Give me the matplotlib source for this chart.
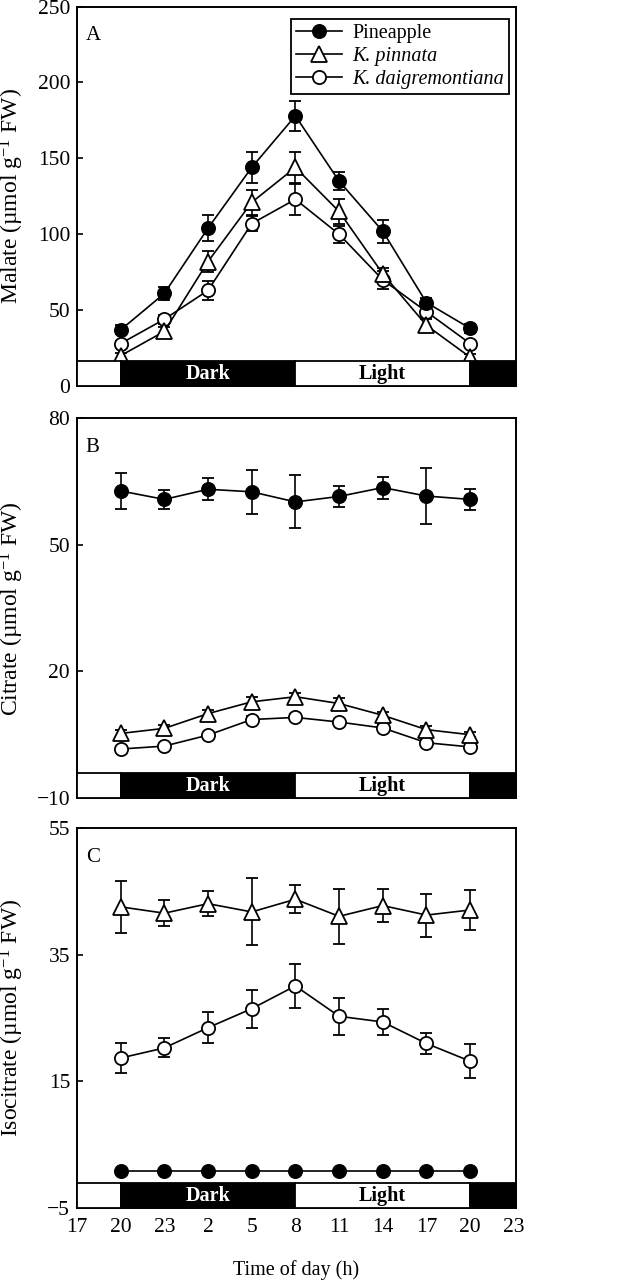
import numpy as np
import matplotlib
matplotlib.use('Agg')
import matplotlib.pyplot as plt
from matplotlib import transforms
from matplotlib.patches import Rectangle
from matplotlib.lines import Line2D

plt.rcParams['font.family'] = ['Liberation Serif', 'DejaVu Serif']
plt.rcParams['mathtext.fontset'] = 'custom'
plt.rcParams['mathtext.rm'] = 'Liberation Serif'
plt.rcParams['mathtext.it'] = 'Liberation Serif:italic'
plt.rcParams['font.size'] = 14.5

# =========================
# Data
# =========================
# time in hours elapsed since 17:00
tick_hours = np.arange(0, 31, 3)
tick_labels = [str((17 + h) % 24) for h in tick_hours]
sample_hours = np.arange(3, 28, 3)

species = ['Pineapple', 'K. pinnata', 'K. daigremontiana']

# photoperiod (elapsed hours): start, end, kind
photo_start = [0, 3, 15, 27]
photo_end = [3, 15, 27, 30.15]
photo_kind = ['light', 'dark', 'light', 'dark']

# Malate
malate_pine = [37, 61, 104, 144, 178, 135, 102, 55, 38]
malate_pine_err = [3, 4.5, 8.5, 10, 10, 6, 7.5, 3, 3]
malate_pinn = [20, 36, 82, 121, 144, 115, 74, 40, 19]
malate_pinn_err = [2, 3, 7, 8, 10, 8, 4, 4, 2]
malate_daig = [28, 44, 63, 107, 123, 100, 70, 49, 28]
malate_daig_err = [2, 3, 6, 5, 10, 5.5, 6, 3, 2]

# Citrate
citrate_pine = [62.8, 60.8, 63.2, 62.6, 60.2, 61.5, 63.6, 61.6, 60.8]
citrate_pine_err = [4.2, 2.2, 2.6, 5.2, 6.3, 2.4, 2.6, 6.7, 2.5]
citrate_pinn = [5.3, 6.5, 10.0, 12.8, 14.0, 12.4, 9.6, 6.2, 5.0]
citrate_pinn_err = [0.8, 0.8, 0.9, 1.2, 1.0, 1.2, 0.9, 0.8, 0.6]
citrate_daig = [1.6, 2.3, 4.9, 8.6, 9.1, 8.0, 6.6, 3.1, 2.1]
citrate_daig_err = [0.5, 0.5, 0.6, 0.8, 0.8, 0.7, 0.7, 0.6, 0.5]

# Isocitrate
iso_pine = [0.8, 0.8, 0.8, 0.8, 0.8, 0.8, 0.8, 0.8, 0.8]
iso_pine_err = [0, 0, 0, 0, 0, 0, 0, 0, 0]
iso_pinn = [42.6, 41.6, 43.1, 41.8, 43.8, 41.1, 42.8, 41.3, 42.1]
iso_pinn_err = [4.1, 2.1, 2.0, 5.3, 2.2, 4.4, 2.6, 3.4, 3.2]
iso_daig = [18.7, 20.3, 23.5, 26.5, 30.1, 25.3, 24.4, 21.0, 18.2]
iso_daig_err = [2.3, 1.5, 2.4, 3.0, 3.5, 2.9, 2.0, 1.6, 2.7]

panels = [
    ('A', r'Malate (µmol g$^{-1}$ FW)', (0, 250), [0, 50, 100, 150, 200, 250],
     [(malate_pine, malate_pine_err), (malate_pinn, malate_pinn_err), (malate_daig, malate_daig_err)]),
    ('B', r'Citrate (µmol g$^{-1}$ FW)', (-10, 80), [-10, 20, 50, 80],
     [(citrate_pine, citrate_pine_err), (citrate_pinn, citrate_pinn_err), (citrate_daig, citrate_daig_err)]),
    ('C', r'Isocitrate (µmol g$^{-1}$ FW)', (-5, 55), [-5, 15, 35, 55],
     [(iso_pine, iso_pine_err), (iso_pinn, iso_pinn_err), (iso_daig, iso_daig_err)]),
]

styles = [
    dict(marker='o', markersize=9.5, markerfacecolor='black'),
    dict(marker='^', markersize=11, markerfacecolor='white'),
    dict(marker='o', markersize=9.5, markerfacecolor='white'),
]
zorders = [3.5, 3.2, 3.1]

# =========================
# Figure
# =========================
fig = plt.figure(figsize=(6.28, 12.8), dpi=100)
left, width, height = 0.1226, 0.699, 0.2965
bottoms = [0.6984, 0.3766, 0.0563]

for i, (letter, ylabel, ylim, yticks, series) in enumerate(panels):
    ax = fig.add_axes([left, bottoms[i], width, height])

    for j, (vals, errs) in enumerate(series):
        ax.errorbar(sample_hours, vals, yerr=errs, color='black', lw=1.2,
                    elinewidth=1.2, capsize=4, capthick=1.2,
                    markeredgecolor='black', markeredgewidth=1.3,
                    zorder=zorders[j], **styles[j])

    ax.set_xlim(0, 30.15)
    ax.set_ylim(*ylim)
    ax.set_yticks(yticks)
    ax.set_xticks(tick_hours)
    if i == 2:
        ax.set_xticklabels(tick_labels)
        ax.set_xlabel('Time of day (h)', labelpad=17, fontsize=14.5)
    else:
        ax.set_xticklabels([])
    ax.tick_params(direction='in', length=4, width=1.2, pad=5, labelsize=15.5)
    ax.tick_params(axis='x', pad=7)
    ax.set_ylabel(ylabel, fontsize=17, va='center')
    ax.yaxis.set_label_coords(-0.148, 0.5)
    for s in ax.spines.values():
        s.set_linewidth(1.4)

    # light/dark bar
    trans = transforms.blended_transform_factory(ax.transData, ax.transAxes)
    for x0, x1, kind in zip(photo_start, photo_end, photo_kind):
        fc = 'black' if kind == 'dark' else 'white'
        ax.add_patch(Rectangle((x0, 0), x1 - x0, 0.066, transform=trans,
                               facecolor=fc, edgecolor='black', lw=1.3,
                               zorder=6, clip_on=False))
        if x1 - x0 > 6:
            ax.text((x0 + x1) / 2, 0.031, kind.capitalize(), transform=trans,
                    ha='center', va='center', fontsize=14.5, fontweight='bold',
                    color='white' if kind == 'dark' else 'black', zorder=7)

    ax.text(0.02, 0.948, letter, transform=ax.transAxes, ha='left', va='top',
            fontsize=15)

    if i == 0:
        handles = [Line2D([], [], color='black', lw=1.2, markeredgecolor='black',
                          markeredgewidth=1.3, **st) for st in styles]
        leg = ax.legend(handles, species, loc='upper right',
                        bbox_to_anchor=(0.984, 0.968),
                        borderaxespad=0, fancybox=False, edgecolor='black',
                        framealpha=1, handlelength=2.3, handletextpad=0.5,
                        labelspacing=0.2, borderpad=0.25, fontsize=14.5)
        leg.get_frame().set_linewidth(1.3)
        for t in leg.get_texts()[1:]:
            t.set_fontstyle('italic')

fig.savefig('out.png', dpi=100)
